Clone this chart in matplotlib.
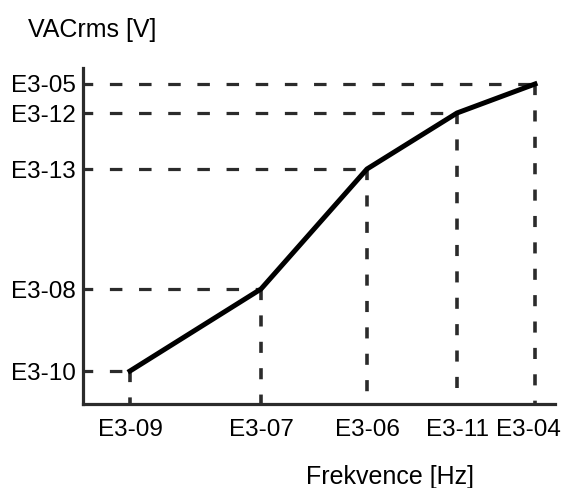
import matplotlib
matplotlib.use("Agg")
import matplotlib.pyplot as plt
import matplotlib.transforms as mtransforms

plt.rcParams['font.family'] = ['Liberation Sans', 'DejaVu Sans']
plt.rcParams['lines.scale_dashes'] = False

# Data (positions, arbitrary units)
freq = [47, 178, 284, 374, 452]
volt = [33, 115, 235, 291, 320]
x_labels = ['E3-09', 'E3-07', 'E3-06', 'E3-11', 'E3-04']
y_labels = ['E3-10', 'E3-08', 'E3-13', 'E3-12', 'E3-05']

fig = plt.figure(figsize=(5.64, 4.88), dpi=100)
ax = fig.add_axes([83/564, 84/488, 472/564, 336/488])
ax.set_xlim(0, 472)
ax.set_ylim(0, 336)

dash_col = '#2b2b2b'
for xv, yv in zip(freq, volt):
    ax.plot([0, xv], [yv, yv], color=dash_col, lw=2.3, linestyle=(2, (9, 12)), solid_capstyle='butt')
    ax.plot([xv, xv], [yv, 0], color=dash_col, lw=2.6, linestyle=(0, (8, 11)), solid_capstyle='butt')

ax.plot(freq, volt, color='black', lw=3.6, solid_joinstyle='round')

for s in ['top', 'right']:
    ax.spines[s].set_visible(False)
for s in ['left', 'bottom']:
    ax.spines[s].set_linewidth(2.3)
    ax.spines[s].set_color('#2b2b2b')

fs = 17.5
ax.set_xticks(freq)
ax.set_xticklabels(x_labels)
ax.set_yticks(volt)
ax.set_yticklabels(y_labels)
ax.tick_params(axis='both', length=0, labelsize=fs)
ax.tick_params(axis='x', pad=11)
ax.tick_params(axis='y', pad=5)

# nudge the last x tick label slightly left so it stays inside the figure
shift = mtransforms.ScaledTranslation(-7/100, 0, fig.dpi_scale_trans)
last = ax.get_xticklabels()[-1]
last.set_transform(last.get_transform() + shift)

fig.text(28/564, 1 - 30/488, 'VACrms [V]', fontsize=18, va='center', ha='left')
fig.text(390/564, 1 - 477/488, 'Frekvence [Hz]', fontsize=18, va='center', ha='center')

fig.savefig('out.png', dpi=100)
